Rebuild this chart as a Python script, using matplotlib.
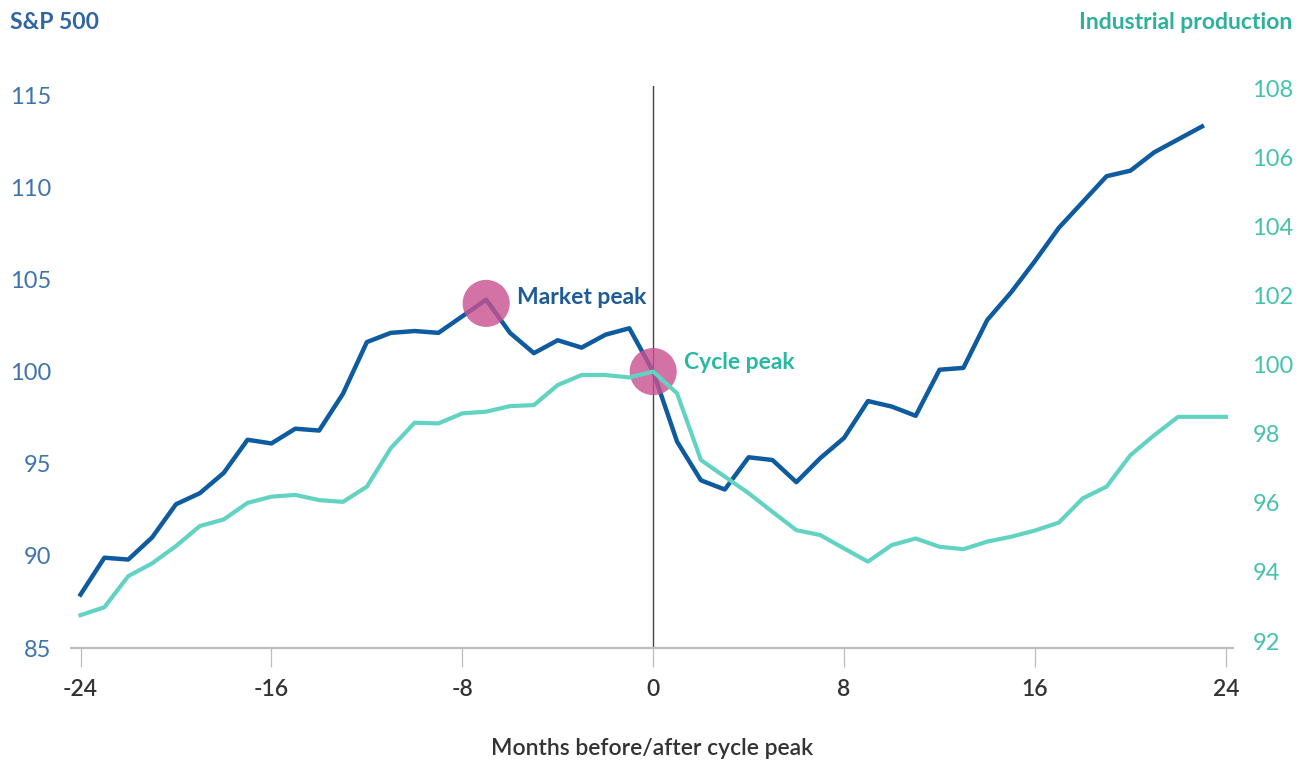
import numpy as np
import matplotlib.pyplot as plt
from matplotlib.transforms import ScaledTranslation

plt.rcParams['font.family'] = ['Lato', 'DejaVu Sans']

# months relative to cycle peak
months_sp = list(range(-24, 24))
months_ip = list(range(-24, 25))

# S&P 500, indexed to 100 at cycle peak
sp500 = [87.9, 89.9, 89.8, 91.0, 92.8, 93.4, 94.5, 96.3, 96.1, 96.9, 96.8, 98.8,
         101.6, 102.1, 102.2, 102.1, 103.0, 103.9, 102.1, 101.0, 101.7, 101.3, 102.0, 102.35,
         100.0, 96.2, 94.1, 93.6, 95.35, 95.2, 94.0, 95.3, 96.4, 98.4, 98.1, 97.6,
         100.1, 100.2, 102.8, 104.3, 106.0, 107.8, 109.2, 110.6, 110.9, 111.9, 112.6, 113.3]

# Industrial production, indexed to 100 at cycle peak
indprod = [92.95, 93.18, 94.08, 94.45, 94.95, 95.53, 95.72, 96.2, 96.38, 96.43, 96.28, 96.23,
           96.67, 97.78, 98.52, 98.5, 98.79, 98.84, 99.0, 99.03, 99.61, 99.9, 99.9, 99.83,
           100.0, 99.37, 97.44, 96.96, 96.48, 95.94, 95.41, 95.27, 94.88, 94.5, 94.98, 95.17,
           94.93, 94.86, 95.08, 95.22, 95.4, 95.63, 96.33, 96.67, 97.58, 98.16, 98.69, 98.69,
           98.69]

left_ticks = [85, 90, 95, 100, 105, 110, 115]
right_ticks = [92, 94, 96, 98, 100, 102, 104, 106, 108]
x_ticks = [-24, -16, -8, 0, 8, 16, 24]

market_peak = -7
cycle_peak = 0

c_sp = '#0e5b9f'
c_ip = '#62d3c2'
c_pink = '#c9508f'

fig = plt.figure(figsize=[13.07, 7.63], dpi=100)
ax = fig.add_axes([0.0543, 0.1507, 0.8891, 0.7367])
ax2 = ax.twinx()

ylo, yhi = 85, 115.5
ax.set_ylim(ylo, yhi)
# right axis spans the same pixels: 92 <-> 85, 108 <-> 115
ax2.set_ylim(92 + (ylo - 85) * 16 / 30, 92 + (yhi - 85) * 16 / 30)
ax.set_xlim(-24.4, 24.3)

ax.axvline(0, color='#444444', lw=1.0, zorder=1)

ax2.plot(months_ip, indprod, color=c_ip, lw=3.0, zorder=2)
ax.plot(months_sp, sp500, color=c_sp, lw=3.2, zorder=3)

# peak markers
i_mp = months_sp.index(market_peak)
i_cp = months_sp.index(cycle_peak)
ax.scatter([market_peak], [sp500[i_mp] - 0.2], s=1150, color=c_pink, alpha=0.8,
           edgecolors='none', zorder=4)
ax.scatter([cycle_peak], [sp500[i_cp]], s=1150, color=c_pink, alpha=0.8,
           edgecolors='none', zorder=4)
ax.text(market_peak + 1.3, sp500[i_mp] + 0.1, 'Market peak', color='#1d5c98',
        fontsize=16.5, fontweight='bold', va='center', ha='left', zorder=5)
ax.text(cycle_peak + 1.3, sp500[i_cp] + 0.5, 'Cycle peak', color='#2bb8a3',
        fontsize=16.5, fontweight='bold', va='center', ha='left', zorder=5)

# axes styling
for a in (ax, ax2):
    for s in ('top', 'left', 'right', 'bottom'):
        a.spines[s].set_visible(False)
ax.spines['bottom'].set_visible(True)
ax.spines['bottom'].set_color('#bdbdbd')
ax.spines['bottom'].set_linewidth(1.6)

ax.set_xticks(x_ticks)
ax.set_xticklabels([str(t) for t in x_ticks])
ax.tick_params(axis='x', length=14, width=0.9, color='#bdbdbd', pad=8,
               labelsize=16.5, labelcolor='#333333')
for lbl in ax.get_xticklabels():
    lbl.set_fontweight('semibold')

ax.set_yticks(left_ticks)
ax.tick_params(axis='y', length=0, pad=14, labelsize=17, labelcolor='#3f73ae')
ax2.set_yticks(right_ticks)
ax2.tick_params(axis='y', length=0, pad=14, labelsize=17, labelcolor='#45c2ad')
# right-hand labels sit a little higher than the left ones
lift = ScaledTranslation(0, 7 / 100, fig.dpi_scale_trans)
for lbl in ax2.get_yticklabels():
    lbl.set_transform(lbl.get_transform() + lift)

ax.set_xlabel('Months before/after cycle peak', fontsize=16.5, color='#333333',
              fontweight='semibold', labelpad=28)

fig.text(0.008, 0.971, 'S&P 500', fontsize=16.5, fontweight='bold', color='#2f65a0',
         ha='left', va='center')
fig.text(0.989, 0.971, 'Industrial production', fontsize=16.5, fontweight='bold',
         color='#2fb09c', ha='right', va='center')

plt.savefig('out.png', dpi=100)
